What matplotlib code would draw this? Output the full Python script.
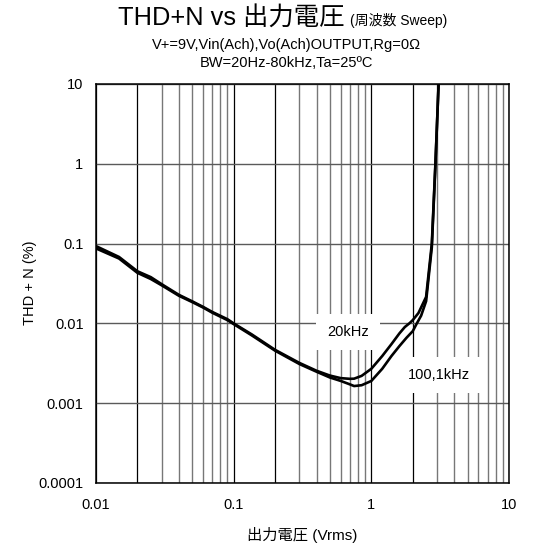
#!/usr/bin/env python3
"""THD+N vs output voltage (frequency sweep), log-log plot with two curves."""
import matplotlib
matplotlib.use("Agg")
import matplotlib.pyplot as plt
from matplotlib.ticker import FixedLocator, FixedFormatter, NullFormatter

# 20kHz curve
V_20K = [0.01, 0.0147, 0.02, 0.025, 0.03, 0.04, 0.05, 0.06, 0.07, 0.09, 0.1,
         0.135, 0.2, 0.3, 0.4, 0.5, 0.6, 0.7, 0.75, 0.85, 1.0, 1.2, 1.4, 1.6,
         1.75, 1.9, 2.0, 2.2, 2.5, 2.75, 2.92, 3.08]
THD_20K = [0.093, 0.068, 0.045, 0.038, 0.031, 0.0228, 0.0189, 0.0161, 0.0139,
           0.0113, 0.0100, 0.0073, 0.00466, 0.0032, 0.00255, 0.00222, 0.00206,
           0.00202, 0.00203, 0.0022, 0.0027, 0.0039, 0.0055, 0.0075, 0.0090,
           0.0101, 0.0110, 0.0135, 0.0215, 0.1, 1.0, 10.0]

# 100Hz / 1kHz curve
V_1K = [0.01, 0.0147, 0.02, 0.025, 0.03, 0.04, 0.05, 0.06, 0.07, 0.09, 0.1,
        0.135, 0.2, 0.3, 0.4, 0.5, 0.6, 0.7, 0.75, 0.85, 1.0, 1.2, 1.4, 1.6,
        1.8, 2.0, 2.14, 2.3, 2.5, 2.75, 2.92, 3.08]
THD_1K = [0.087, 0.065, 0.043, 0.036, 0.030, 0.0222, 0.0185, 0.0158, 0.0136,
          0.0110, 0.0098, 0.0071, 0.00455, 0.0031, 0.00248, 0.0021, 0.0019,
          0.00172, 0.00164, 0.00168, 0.0019, 0.0027, 0.0039, 0.0052, 0.0066,
          0.0080, 0.0100, 0.0125, 0.019, 0.09, 0.95, 10.0]

X_DECADES = [0.01, 0.1, 1, 10]
X_TICK_LABELS = ["0.01", "0.1", "1", "10"]
Y_DECADES = [0.0001, 0.001, 0.01, 0.1, 1, 10]
Y_TICK_LABELS = ["0.0001", "0.001", "0.01", "0.1", "1", "10"]

plt.rcParams["font.family"] = ["Liberation Sans", "Noto Sans CJK JP"]
plt.rcParams["font.size"] = 10.5

W, H = 542, 548
fig = plt.figure(figsize=(W / 100, H / 100), dpi=100)
ax = fig.add_axes([96 / W, 1 - 483 / H, (509 - 96) / W, (483 - 84) / H])
ax.set_xscale("log")
ax.set_yscale("log")
ax.set_xlim(0.01, 10)
ax.set_ylim(0.0001, 10)

# grid: 1x and 2x verticals in black, others grey; decade horizontals
minor_x = [m * d for d in X_DECADES[:-1] for m in range(3, 10)]
two_x = [2 * d for d in X_DECADES[:-1]]
ax.xaxis.set_major_locator(FixedLocator(X_DECADES))
ax.xaxis.set_major_formatter(FixedFormatter(X_TICK_LABELS))
ax.xaxis.set_minor_locator(FixedLocator(minor_x))
ax.xaxis.set_minor_formatter(NullFormatter())
ax.yaxis.set_major_locator(FixedLocator(Y_DECADES))
ax.yaxis.set_major_formatter(FixedFormatter(Y_TICK_LABELS))
ax.yaxis.set_minor_locator(FixedLocator([]))

for v in minor_x:
    ax.axvline(v, color="#777777", lw=1.0, zorder=1)
for v in X_DECADES + two_x:
    ax.axvline(v, color="#000000", lw=0.9, zorder=1)
for v in Y_DECADES:
    ax.axhline(v, color="#5a5a5a", lw=1.0, zorder=1)

ax.tick_params(axis="both", which="both", length=0)
ax.tick_params(axis="x", pad=11)
ax.tick_params(axis="y", pad=9)
for s in ax.spines.values():
    s.set_color("#000000")
    s.set_linewidth(1.1)
    s.set_zorder(5)

ax.plot(V_20K, THD_20K, color="black", lw=1.9, zorder=3)
ax.plot(V_1K, THD_1K, color="black", lw=1.9, zorder=3)

box = dict(facecolor="white", edgecolor="none", pad=8)
ax.text(0.68, 0.0078, "20kHz", ha="center", va="center", bbox=box, zorder=4)
ax.text(3.1, 0.00225, "100,1kHz", ha="center", va="center", bbox=box, zorder=4)

fig.text(30 / W, 1 - 283 / H, "THD + N (%)", rotation=90, ha="center",
         va="center", fontsize=10.5)
fig.text(302 / W, 1 - 535 / H, "出力電圧 (Vrms)", ha="center", va="center",
         fontsize=11)

fig.text(345 / W, 1 - 25 / H, "THD+N vs 出力電圧", ha="right", va="baseline",
         fontsize=18.3)
fig.text(350 / W, 1 - 25 / H, "(周波数 Sweep)", ha="left", va="baseline",
         fontsize=10)
fig.text(286 / W, 1 - 45 / H, "V+=9V,Vin(Ach),Vo(Ach)OUTPUT,Rg=0Ω",
         ha="center", va="center", fontsize=10.5)
fig.text(286 / W, 1 - 63 / H, "BW=20Hz-80kHz,Ta=25ºC", ha="center",
         va="center", fontsize=10.5)

fig.savefig("out.png", dpi=100, facecolor="white")
